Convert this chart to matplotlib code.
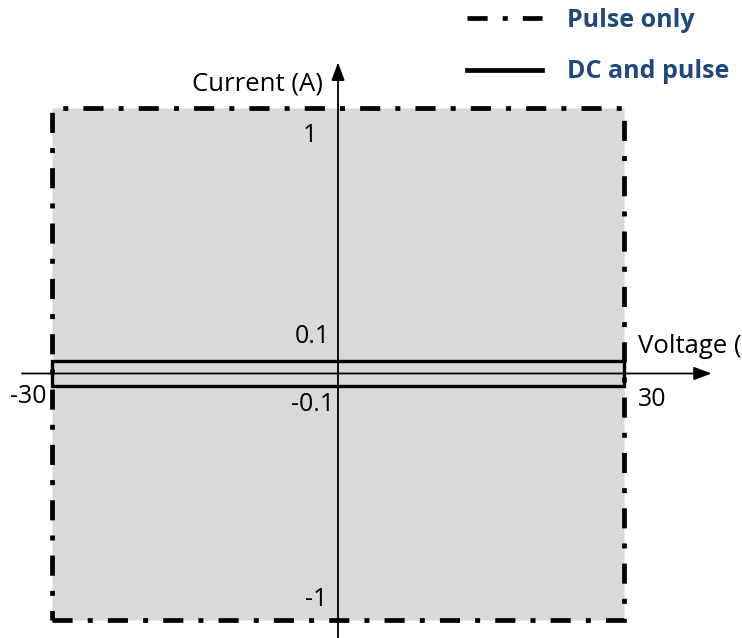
import matplotlib

matplotlib.use('Agg')

import numpy as np
import matplotlib.pyplot as plt
from matplotlib.patches import Rectangle
from matplotlib.lines import Line2D

plt.rcParams['font.family'] = ['Open Sans', 'DejaVu Sans']

# operating limits
voltage_limits = [-30, 30]          # V
pulse_current = [-1, 1]             # A, pulse only
dc_current = [-0.1, 0.1]            # A, DC and pulse
series_names = ['Pulse only', 'DC and pulse']

# axis tick labels
x_ticks = [('-30', -30), ('30', 30)]
y_ticks = [('1', 1), ('0.1', 0.1), ('-0.1', -0.1), ('-1', -1)]

# piecewise current axis: the band +-0.1 A is stretched less than the rest
knots_v = np.array([-3, -1, -0.1, 0, 0.1, 1, 3])
knots_p = np.array([-766.5, -246.5, -12.5, 0, 12.5, 266, 829.3])


def fwd(y):
    return np.interp(y, knots_v, knots_p)


def inv(p):
    return np.interp(p, knots_p, knots_v)


fig = plt.figure(figsize=(7.42, 6.38), dpi=100)
ax = fig.add_axes([0, 0, 1, 1])
ax.set_yscale('function', functions=(fwd, inv))
ax.set_xlim(-35.46, 42.38)
ax.set_ylim(inv(-264.5), inv(373.5))
ax.axis('off')

dashdot = (0, (4.26, 3.2, 1.06, 3.2))

# pulse-only area
ax.add_patch(Rectangle((voltage_limits[0], pulse_current[0]),
                       voltage_limits[1] - voltage_limits[0],
                       pulse_current[1] - pulse_current[0],
                       facecolor='#d9d9d9', edgecolor='black', lw=3.4,
                       linestyle=dashdot, zorder=1))
# DC and pulse band
ax.add_patch(Rectangle((voltage_limits[0], dc_current[0]),
                       voltage_limits[1] - voltage_limits[0],
                       dc_current[1] - dc_current[0],
                       fill=False, edgecolor='black', lw=2.4, zorder=3))

# axes with arrow heads
arr = dict(arrowstyle='-|>,head_length=0.54,head_width=0.2', mutation_scale=20,
           lw=1.3, color='black', shrinkA=0, shrinkB=0)
ax.annotate('', xy=(39.2, 0), xytext=(-33.15, 0), arrowprops=arr, zorder=2)
ax.annotate('', xy=(0, 1.16), xytext=(0, inv(-264.5)), arrowprops=arr, zorder=2)

fs = 18
ax.text(-1.6, 1.0586, 'Current (A)', fontsize=18.5, ha='right', va='baseline')
ax.text(31.47, 0.128, 'Voltage (V)', fontsize=18.5, ha='left', va='baseline')

tick_pos = {'1': (-2.2, 0.8775), '0.1': (-0.84, 0.164),
            '-0.1': (-0.42, -0.196), '-1': (-1.15, -0.946)}
for lab, val in y_ticks:
    x, y = tick_pos[lab]
    ax.text(x, y, lab, fontsize=fs, ha='right', va='baseline')
ax.text(-34.4, -0.165, x_ticks[0][0], fontsize=fs, ha='left', va='baseline')
ax.text(31.47, -0.177, x_ticks[1][0], fontsize=fs, ha='left', va='baseline')

handles = [Line2D([], [], color='black', lw=3.4, linestyle=dashdot),
           Line2D([], [], color='black', lw=3.4)]
fig.legend(handles, series_names, loc='upper left',
           bbox_to_anchor=(467 / 742, 1 - 8 / 638), frameon=False,
           borderpad=0, borderaxespad=0, handlelength=3.0, handletextpad=1.0,
           labelspacing=1.05, labelcolor='#1f497d',
           prop=dict(size=18, weight='bold'))

fig.savefig('out.png', dpi=100)
